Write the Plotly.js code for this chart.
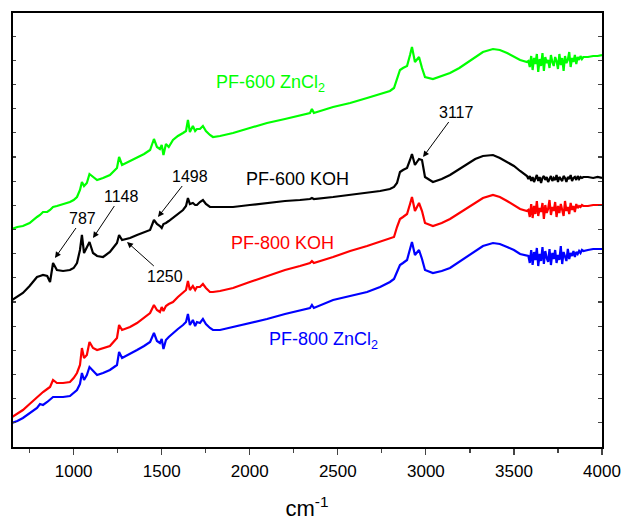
<!DOCTYPE html>
<html>
<head>
<meta charset="utf-8">
<script src="https://cdn.plot.ly/plotly-3.0.1.min.js"></script>
<style>html,body{margin:0;padding:0;background:#fff;}#chart{width:625px;height:521px;}</style>
</head>
<body>
<div id="chart"></div>
<script>
// Wavenumber grid (cm-1)
const wavenumber = [650,680,712,750,792,809,826,850,866,883,905,940,979,1000,1019,1036,1047,1059,1075,1090,
1110,1133,1167,1206,1246,1258,1275,1320,1360,1400,1434,1456,1473,1490,1500,1510,1524,1540,1564,1592,
1621,1638,1649,1660,1677,1690,1700,1717,1734,1751,1774,1791,1831,1905,2000,2098,2200,2285,2342,2353,
2364,2473,2570,2666,2740,2796,2819,2836,2853,2870,2893,2910,2921,2938,2961,2978,2995,3040,3090,3137,
3190,3233,3280,3324,3381,3420,3461,3500,3535,3574,
3582,3590,3598,3606,3614,3622,3630,3638,3646,3654,3662,3670,3678,3686,3694,3702,3710,3718,3726,3734,
3742,3750,3758,3766,3774,3782,3790,3798,3806,3814,3822,3830,3838,3846,3854,3862,3870,3878,3886,3894,
3920,3950,3975,4000];

// Transmittance (a.u., stacked)
const pf600ZnCl2 = [218,220,221,224,230,232,235,235,237,240,241,243,245,247,250,257,265,261,264,273,
270,267,269,272,279,290,282,286,290,293,297,308,300,298,302,292,303,300,307,311,
314,316,327,315,321,316,318,318,321,316,312,310,311,314,319,324,328,332,334,338,
334,340,344,349,353,356,359,367,377,379,381,392,400,385,390,379,370,368,371,374,
379,384,390,395,398,397,394,390,387,385,
386,380,391,377,389,383,393,375,388,381,394,376,390,384,387,379,392,385,381,390,
386,378,393,382,389,376,391,384,387,395,380,389,385,392,383,390,387,391,388,390,
390,391,391,392];

const pf600KOH = [147,150,154,161,170,171,172,171,165,184,177,176,177,179,184,197,212,194,200,205,
194,191,190,195,204,212,207,209,212,215,217,227,223,221,219,223,224,226,229,233,
237,241,249,243,244,242,242,245,247,243,240,240,240,240,242,244,246,247,248,249,
248,250,252,254,256,258,260,264,275,277,279,287,293,282,288,287,270,265,268,272,
278,283,288,291,292,289,285,281,276,271,
268,271,266,270,265,269,272,266,270,264,269,271,267,270,265,268,271,266,269,267,
272,265,270,268,266,271,269,265,270,268,272,266,269,270,267,271,268,270,269,270,
270,269,270,269];

const pf800KOH = [30,33,37,43,50,53,55,58,60,67,64,64,65,69,74,82,99,89,92,105,
99,97,99,101,109,122,117,120,124,129,134,142,137,135,140,136,141,143,145,150,
154,157,166,157,161,157,160,160,163,159,155,155,156,159,165,171,177,181,184,186,
184,190,196,201,205,208,210,220,228,230,233,243,250,236,244,236,224,221,224,228,
234,238,244,249,252,250,246,242,238,236,
237,230,243,229,241,233,246,231,239,235,244,228,242,234,238,247,232,240,236,245,
230,241,234,243,238,231,246,236,240,233,244,237,241,235,243,239,241,240,242,241,
241,242,242,242];

const pf800ZnCl2 = [24,26,29,34,39,43,42,45,47,50,50,50,51,54,57,63,74,67,72,80,
76,72,74,77,82,95,89,93,97,101,105,114,106,104,108,98,107,110,114,118,
122,125,133,122,127,121,125,124,128,123,119,117,117,120,124,128,133,137,139,142,
139,147,151,155,160,165,168,176,182,184,187,198,205,192,197,188,177,174,176,179,
185,190,196,201,204,203,200,197,193,191,
191,184,197,182,195,187,199,181,193,186,200,183,196,189,185,198,182,194,188,197,
184,192,187,201,183,195,190,186,198,188,194,191,196,190,195,193,196,194,197,196,
197,198,198,198];

const seriesNames = ['PF-600 ZnCl<sub>2</sub>','PF-600 KOH','PF-800 KOH','PF-800 ZnCl<sub>2</sub>'];
const seriesColors = ['#00ff00','#000000','#ff0000','#0000ff'];
const seriesValues = [pf600ZnCl2, pf600KOH, pf800KOH, pf800ZnCl2];
// label anchor positions (wavenumber, a.u.)
const labelX = [2118, 2271, 2186, 2416];
const labelY = [364, 268, 204, 107];

// peak annotations: arrow head position and text offset (px)
const peakText = ['787','1148','1498','1250','3117'];
const peakHeadX = [894,1110,1479,1303,2984];
const peakHeadY = [189,209,230,205,290];
const peakAx = [28,28,32,38,33];
const peakAy = [-40,-42,-41,34,-45];

const xTickVals = [1000,1500,2000,2500,3000,3500,4000];

const traces = seriesValues.map((v,i)=>({
  x: wavenumber, y: v, type:'scatter', mode:'lines',
  line:{color:seriesColors[i], width:2.2}, name:seriesNames[i], hoverinfo:'skip'
}));

const font = 'Arial, "Liberation Sans", sans-serif';
const annotations = [];
seriesNames.forEach((t,i)=>annotations.push({
  x:labelX[i], y:labelY[i], xref:'x', yref:'y', text:t, showarrow:false,
  font:{family:font, size:18, color:seriesColors[i]}
}));
peakText.forEach((t,i)=>{
  annotations.push({x:peakHeadX[i], y:peakHeadY[i], xref:'x', yref:'y', text:t, showarrow:true,
    ax:peakAx[i], ay:peakAy[i], arrowhead:2, arrowsize:1.2, arrowwidth:1, arrowcolor:'#000',
    standoff:0, startstandoff:0, font:{family:font, size:16, color:'#000'}});
});

const layout = {
  width:625, height:521,
  margin:{l:12, r:23, t:12, b:74},
  paper_bgcolor:'#fff', plot_bgcolor:'#fff',
  showlegend:false,
  font:{family:font, color:'#000'},
  xaxis:{range:[650,4000], tickvals:xTickVals, ticks:'outside', ticklen:6, tickwidth:1.2,
    minor:{dtick:250, tick0:0, ticks:'outside', ticklen:4, tickwidth:1.2, showgrid:false},
    showline:true, mirror:true, linewidth:1.5, linecolor:'#000', showgrid:false, zeroline:false,
    tickfont:{family:font, size:17}, ticklabelstandoff:2,
    title:{text:'cm<sup>-1</sup>', font:{family:font, size:22}, standoff:24}},
  yaxis:{range:[0,435], tick0:0, dtick:435/18, ticks:'inside', ticklen:4, tickwidth:1.2,
    showticklabels:false, showline:true, mirror:'ticks', linewidth:1.5, linecolor:'#000',
    showgrid:false, zeroline:false},
  // left and top frame lines
  shapes:[
    {type:'line', xref:'paper', yref:'paper', x0:0, x1:0, y0:0, y1:1, line:{color:'#000', width:2}},
    {type:'line', xref:'paper', yref:'paper', x0:0, x1:1, y0:1, y1:1, line:{color:'#000', width:2}}
  ],
  annotations: annotations
};

Plotly.newPlot('chart', traces, layout, {displayModeBar:false, staticPlot:true});
</script>
</body>
</html>
